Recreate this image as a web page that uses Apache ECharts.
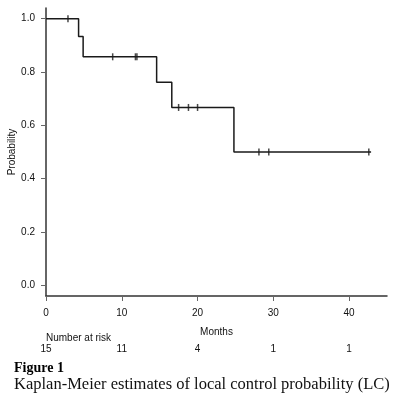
<!DOCTYPE html>
<html>
<head>
<meta charset="UTF-8">
<title>Figure 1</title>
<script src="https://cdn.jsdelivr.net/npm/echarts@6/dist/echarts.min.js"></script>
<style>
  html, body { margin: 0; padding: 0; background: #fff; }
  #chart { width: 400px; height: 400px; }
</style>
</head>
<body>
<div id="chart"></div>
<script>
// Kaplan-Meier step points (time in months, survival probability)
var eventTimes = [0, 4.3, 4.9, 14.6, 16.6, 24.8, 42.9];
var survProb = [1.0, 0.933, 0.857, 0.762, 0.667, 0.5, 0.5];
// censored observations
var censorTimes = [2.9, 8.8, 11.8, 12.0, 17.5, 18.8, 20.0, 28.1, 29.4, 42.6];
// number at risk table
var riskTimes = [0, 10, 20, 30, 40];
var riskCounts = [15, 11, 4, 1, 1];
var yTicks = [0, 0.2, 0.4, 0.6, 0.8, 1.0];
var xTicks = [0, 10, 20, 30, 40];

function survAt(t) {
  var s = survProb[0];
  for (var i = 0; i < eventTimes.length; i++) {
    if (eventTimes[i] <= t) s = survProb[i];
  }
  return s;
}

var stepData = eventTimes.map(function(t, i) { return [t, survProb[i]]; });
var censorData = censorTimes.map(function(t) { return [t, survAt(t)]; });

var sans = 'Liberation Sans, Arial, sans-serif';
var serif = 'Liberation Serif, Times New Roman, serif';

var chart = echarts.init(document.getElementById('chart'));
chart.setOption({
  animation: false,
  backgroundColor: '#fff',
  grid: { left: 46, right: 13, top: 8, bottom: 104, outerBoundsMode: 'none', containLabel: false },
  xAxis: [{
    type: 'value',
    min: 0,
    max: 45,
    name: 'Months',
    nameLocation: 'middle',
    nameGap: 31,
    nameMoveOverlap: false,
    nameTextStyle: { fontFamily: sans, fontSize: 10, color: '#111' },
    axisLine: { onZero: false, lineStyle: { color: '#333', width: 1.5 } },
    axisTick: { length: 5, customValues: xTicks, lineStyle: { color: '#666' } },
    axisLabel: { customValues: xTicks, margin: 12, fontFamily: sans, fontSize: 10, color: '#111' },
    splitLine: { show: false }
  }, {
    type: 'value',
    min: 0,
    max: 45,
    position: 'bottom',
    offset: 40,
    axisLine: { show: false },
    axisTick: { show: false },
    splitLine: { show: false },
    axisLabel: {
      customValues: riskTimes,
      margin: 8,
      fontFamily: sans, fontSize: 10, color: '#111',
      formatter: function(v) {
        var i = riskTimes.indexOf(v);
        return i >= 0 ? String(riskCounts[i]) : '';
      }
    }
  }],
  yAxis: {
    type: 'value',
    min: -0.04,
    max: 1.04,
    name: 'Probability',
    nameLocation: 'middle',
    nameGap: 29,
    nameMoveOverlap: false,
    nameTextStyle: { fontFamily: sans, fontSize: 10, color: '#111' },
    axisLine: { show: true, lineStyle: { color: '#333', width: 1.5 } },
    axisTick: { show: true, length: 5, customValues: yTicks, lineStyle: { color: '#666' } },
    axisLabel: {
      customValues: yTicks, margin: 11, fontFamily: sans, fontSize: 10, color: '#111',
      formatter: function(v) { return v.toFixed(1); }
    },
    splitLine: { show: false }
  },
  series: [{
    type: 'line',
    step: 'end',
    data: stepData,
    showSymbol: false,
    lineStyle: { color: '#1a1a1a', width: 1.5 }
  }, {
    type: 'scatter',
    data: censorData,
    symbol: 'rect',
    symbolSize: [1.5, 7],
    itemStyle: { color: '#1a1a1a' }
  }],
  graphic: [{
    type: 'text', left: 46, top: 333,
    style: { text: 'Number at risk', font: '10px ' + sans, fill: '#111' }
  }, {
    type: 'text', left: 14, top: 361,
    style: { text: 'Figure 1', font: 'bold 14px ' + serif, fill: '#000' }
  }, {
    type: 'text', left: 14, top: 376,
    style: { text: 'Kaplan-Meier estimates of local control probability (LC)', font: '16.5px ' + serif, fill: '#111' }
  }]
});
</script>
</body>
</html>
